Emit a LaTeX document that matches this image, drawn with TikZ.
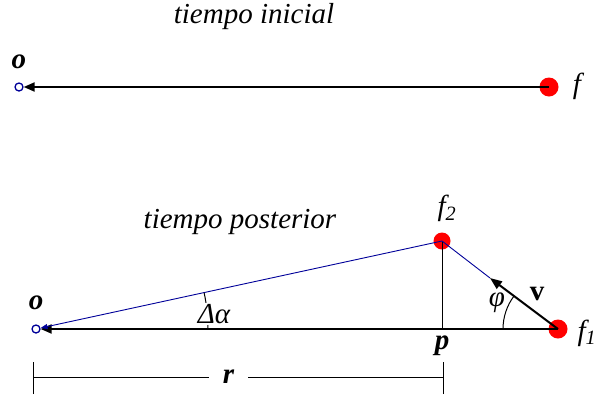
\documentclass[tikz,border=0pt]{standalone}
\usepackage{fontspec}
\setmainfont{Liberation Serif}
\usetikzlibrary{arrows.meta}

\tikzset{
  punto/.style={circle, fill=red, inner sep=0pt, minimum size=19pt},
  abierto/.style={circle, draw=blue!60!black, line width=1.3pt, fill=white, inner sep=0pt, minimum size=8pt},
  eje/.style={line width=2pt, -{Triangle[length=11pt,width=9pt]}},
  azul/.style={line width=0.9pt, draw=blue!60!black},
  fina/.style={line width=1pt},
  etiq/.style={font=\fontsize{29}{34}\selectfont\itshape},
  etiqb/.style={font=\fontsize{29}{34}\selectfont\itshape\bfseries},
}

\begin{document}
\begin{tikzpicture}[x=1pt, y=-1pt, line cap=butt]

  %% ════ tiempo inicial ════
  \node[etiq] (t1) at (254,17) {tiempo inicial};
  \node[punto] (f) at (549,87) {};
  \node[abierto] (o) at (19,87) {};
  \draw[eje] (f.center) -- (o);
  \node[etiqb] (lo) at (19,62) {o};
  \node[etiq] (lf) at (577,86) {f};

  %% ════ tiempo posterior ════
  \node[etiq] (t2) at (240,222) {tiempo posterior};
  \node[punto] (f1) at (558,329) {};
  \node[punto, minimum size=17pt] (f2) at (442,241) {};
  \node[abierto] (o2) at (36,329) {};
  \coordinate (p) at (442,329);
  \coordinate (vtip) at (490,278);

  \draw[eje] (f1.center) -- (o2);
  \draw[fina] (f2.center) -- (p);
  \draw[azul, -{Triangle[length=7pt,width=5pt]}] (f2.center) -- (o2);
  \draw[azul] (f2.center) -- (vtip);
  \draw[line width=2pt, -{Triangle[length=12pt,width=9pt]}] (f1.center) -- (vtip);

  %% ════ angulos ════
  \draw[fina] ([shift={(0:172)}]o2.center) arc[start angle=0, end angle=-12.2, radius=172];
  \draw[fina] ([shift={(180:55)}]f1.center) arc[start angle=180, end angle=217.2, radius=55];

  %% ════ etiquetas ════
  \node[etiq, fill=white, inner sep=1pt] (da) at (214,314) {Δα};
  \node[etiq, fill=white, inner sep=0pt] (phi) at (497,303) {φ};
  \node[etiq, font=\fontsize{29}{34}\selectfont\bfseries] (lv) at (537,294) {v};
  \node[etiqb] (lo2) at (36,303) {o};
  \node[etiqb] (lp) at (442,346) {p};
  \node[etiq] (lf2) at (447,208) {f\textsubscript{2}};
  \node[etiq, anchor=west] (lf1) at (574,333) {f\textsubscript{1}};

  %% ════ cota r ════
  \coordinate (r0) at (33,377);
  \coordinate (r1) at (443,377);
  \draw[fina] ([yshift=-17pt]r0) -- ([yshift=15pt]r0);
  \draw[fina] ([yshift=-17pt]r1) -- ([yshift=15pt]r1);
  \draw[fina] (r0) -- node[pos=0.477, fill=white, etiqb, inner xsep=14pt, inner ysep=0pt] (lr) {r} (r1);

  \pgfresetboundingbox
  \path[use as bounding box] (0,0) rectangle (597,400);
\end{tikzpicture}
\end{document}
